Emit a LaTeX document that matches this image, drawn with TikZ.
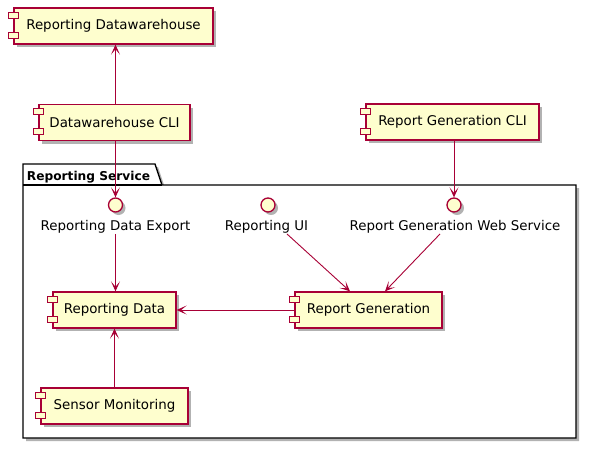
\documentclass[tikz,border=0pt]{standalone}
\usepackage{fontspec}
\setmainfont{DejaVu Sans}
\usetikzlibrary{arrows.meta,shadows,calc}
\definecolor{compfill}{HTML}{FEFECE}
\definecolor{compline}{HTML}{A80036}
\tikzset{
  shadowed/.style={drop shadow={shadow xshift=3pt,shadow yshift=-3pt,opacity=0.3,fill=black}},
  comp/.style={draw=compline, line width=1.3pt, fill=compfill, minimum height=36pt,
    inner sep=0pt, font=\fontsize{13.4}{16}\selectfont, shadowed},
  icon/.style={draw=compline, line width=1.1pt, fill=compfill},
  iface/.style={circle, draw=compline, line width=1.3pt, fill=compfill, minimum size=14pt,
    inner sep=0pt, shadowed},
  ilabel/.style={font=\fontsize{13.4}{16}\selectfont, inner sep=1pt, anchor=base},
  conn/.style={draw=compline, line width=0.9pt, -{Stealth[length=10pt,width=9pt,inset=5.5pt]}},
  pkg/.style={draw=black, line width=1.4pt, fill=white, shadowed},
}
\begin{document}
\begin{tikzpicture}[x=1pt,y=-1pt]
\useasboundingbox (0,0) rectangle (610,466);
% package
\path[pkg] (23,164) -- (155,164) -- (162,185) -- (576,185) -- (576,438) -- (23,438) -- cycle;
\draw[black, line width=1.4pt] (23,185) -- (162,185);
\node[font=\bfseries\fontsize{12.2}{15}\selectfont, anchor=base] (pkglabel) at (88.5,180) {Reporting Service};
% components
\node[comp, minimum width=199pt] (rdw) at (113.5,26) {Reporting Datawarehouse};
\node[comp, minimum width=151pt] (dcli) at (114.5,122.5) {Datawarehouse CLI};
\node[comp, minimum width=173pt] (rgcli) at (452.5,122) {Report Generation CLI};
\node[comp, minimum width=123pt] (rd) at (114.5,310) {Reporting Data};
\node[comp, minimum width=147pt] (sm) at (114.5,406) {Sensor Monitoring};
\node[comp, minimum width=147pt] (rg) at (368.5,310) {Report Generation};
\foreach \n in {rdw,dcli,rgcli,rd,sm,rg}{
  \draw[icon] ($(\n.north west)+(-5,5)$) rectangle ++(10,6);
  \draw[icon] ($(\n.north west)+(-5,25)$) rectangle ++(10,6);
}
% interfaces
\node[iface] (iexp) at (115.5,205) {};
\node[ilabel] (iexpl) at (115.5,230) {Reporting Data Export};
\node[iface] (iui) at (268,205) {};
\node[ilabel] (iuil) at (266.5,230) {Reporting UI};
\node[iface] (iweb) at (454,205) {};
\node[ilabel] (iwebl) at (455,230) {Report Generation Web Service};
% connectors
\draw[conn] (dcli.north -| iexp) -- (rdw.south -| iexp);
\draw[conn] (dcli.south -| iexp) -- (iexp.north);
\draw[conn] (rgcli.south -| iweb) -- (iweb.north);
\draw[conn] (iexpl.south) -- (rd.north -| iexpl.south);
\draw[conn] ([xshift=20.5pt]iuil.south) -- ([xshift=-18.5pt]rg.north);
\draw[conn] ([xshift=-15pt]iwebl.south) -- ([xshift=16.5pt]rg.north);
\draw[conn] (rg.west) -- (rd.east);
\draw[conn] (sm.north) -- (rd.south);
\end{tikzpicture}
\end{document}
